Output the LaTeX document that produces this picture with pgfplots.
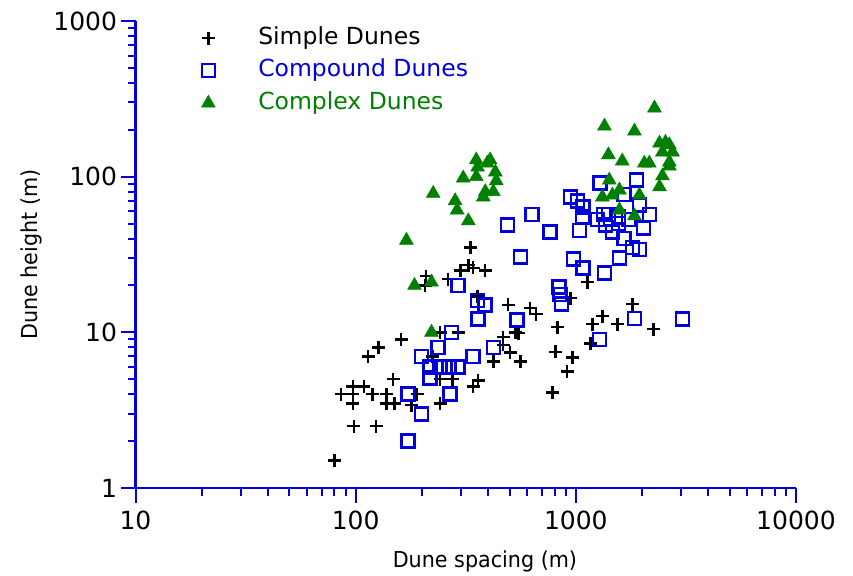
\documentclass[border=0pt]{standalone}
\usepackage{fontspec}
\setmainfont{DejaVu Sans}
\newfontfamily\labfont[FakeStretch=0.94]{DejaVu Sans}
\usepackage{pgfplots}
\pgfplotsset{compat=1.18}
\definecolor{myblue}{RGB}{0,0,220}
\definecolor{mygreen}{RGB}{0,128,0}
\newcommand{\fs}{\fontsize{23.5bp}{27bp}\selectfont}
\newcommand{\fl}{\labfont\fontsize{22bp}{26bp}\selectfont}
\newcommand{\ft}{\fontsize{25bp}{29bp}\selectfont}
\begin{document}
\begin{tikzpicture}
\begin{axis}[
 at={(0,0)}, anchor=south west,
 scale only axis, width=660.5bp, height=467bp,
 xmode=log, ymode=log,
 xmin=10, xmax=10000, ymin=1, ymax=1000,
 axis x line*=bottom, axis y line*=left,
 axis line style={myblue, line width=2.4bp, -},
 every tick/.style={myblue, line width=2bp},
 xtick align=outside, ytick align=outside,
 major tick length=15bp, minor tick length=8bp,
 xtick={10,100,1000,10000}, xticklabels={10,100,1000,10000},
 ytick={1,10,100,1000}, yticklabels={1,10,100,1000},
 minor xtick={20,30,40,50,60,70,80,90,200,300,400,500,600,700,800,900,2000,3000,4000,5000,6000,7000,8000,9000},
 minor ytick={2,3,4,5,6,7,8,9,20,30,40,50,60,70,80,90,200,300,400,500,600,700,800,900},
 ticklabel style={font=\ft, black},
 xticklabel style={yshift=-4bp},
 xlabel={Dune spacing (m)}, ylabel={Dune height (m)},
 label style={font=\fl, black},
 xlabel style={at={(axis description cs:0.529,-0.158)}, anchor=center},
 ylabel style={at={(axis description cs:-0.157,0.5)}, anchor=center},
 clip=false,
 legend style={at={(axis description cs:0.095,1.0)}, anchor=north west, draw=none, fill=none,
   font=\fs, row sep=2.5bp, nodes={text height=17bp, text depth=5bp, inner ysep=4bp},
   /tikz/every odd column/.append style={column sep=41bp}},
 legend cell align=left,
]
\addplot[only marks, mark=+, mark size=6.5bp, black, line width=2.4bp] coordinates {
(80,1.5) (98,2.5) (124,2.5) (86,4) (97,4) (119,4) (138,4) (190,4) (97,4.5) (109,4.5)
(97,3.5) (138,3.5) (150,3.5) (179,3.4) (242,3.5) (148,5) (114,7) (127,8) (161,9) (223,7)
(242,10) (292,10) (242,5) (275,5) (342,4.5) (360,4.9) (422,6.5) (468,9.3) (468,8.3) (503,7.4)
(531,10) (548,9.9) (560,6.5) (493,15) (621,14.3) (661,13.1) (824,10.8) (944,16.6) (1128,21) (1188,11.3)
(1320,12.7) (1544,11.3) (1806,15.2) (1164,8.5) (807,7.5) (964,6.9) (914,5.6) (782,4.1) (2249,10.5)
(332,35) (299,25) (325,27) (342,26) (388,25) (209,23) (263,22) (207,20) (357,17)
};
\addlegendentry{Simple Dunes}
\addplot[only marks, mark=square, mark size=6.5bp, myblue, line width=2.6bp] coordinates {
(173,2.0) (199,3.0) (173,4.0) (269,4.0) (218,5.1) (218,6) (242,6) (266,6) (292,6) (199,7)
(237,8) (342,7) (272,10) (422,8) (360,12.2) (357,16) (388,15) (292,20) (542,12) (560,30.5)
(489,49) (634,57) (765,44) (841,19.5) (845,17.5) (860,15.2) (975,29.6) (1081,26) (1349,24) (1280,9)
(1846,12.3) (3048,12.2) (944,74) (1016,70) (1081,64) (1072,55) (1037,45) (1291,91) (1884,95) (1660,77)
(1944,66) (2157,57) (1253,53) (1333,57) (1406,57) (1362,49) (1466,44) (1560,55) (1560,50) (1734,53)
(2028,47) (1660,40) (1806,35) (1944,34) (1578,30)
};
\addlegendentry{\textcolor{myblue}{Compound Dunes}}
\addplot[only marks, mark=triangle*, mark size=8bp, mygreen, line width=0.5bp] coordinates {
(225,78) (283,70) (289,61) (325,52) (170,39) (308,98) (353,128) (358,115) (353,100) (396,122)
(408,128) (431,107) (435,94) (388,80) (380,74) (422,80) (185,20) (221,21) (221,10)
(2276,276) (1349,211) (1846,196) (2399,164) (2553,166) (2660,160) (2474,144) (2748,144) (1406,138) (1625,126)
(2046,122) (2157,122) (2660,124) (2660,117) (2474,101) (2399,86) (1419,95) (1578,82) (1320,74) (1466,76)
(1944,76) (1578,61) (1846,56)
};
\addlegendentry{\textcolor{mygreen}{Complex Dunes}}
\end{axis}
\pgfresetboundingbox
\path[use as bounding box] (-135.5bp,-88bp) rectangle (717.5bp,488bp);
\end{tikzpicture}
\end{document}
